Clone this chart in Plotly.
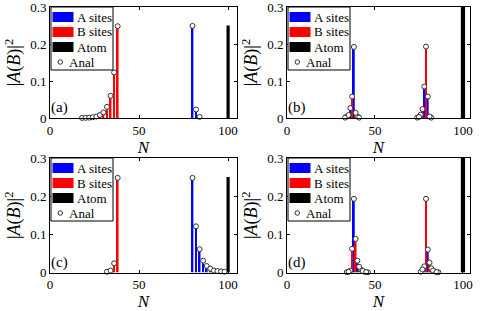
import plotly.graph_objects as go

# ---------------- data ----------------
# Panel (a)
a_A_N = [80, 82, 84]
a_A_val = [0.249, 0.023, 0.003]
a_B_N = [18, 20, 22, 24, 26, 28, 30, 32, 34, 36, 38]
a_B_val = [0.0002, 0.0005, 0.001, 0.002, 0.004, 0.008, 0.015, 0.030, 0.060, 0.123, 0.248]
a_atom_N = [100]
a_atom_val = [0.25]

# Panel (b)
b_A_N = [34, 36, 38, 40, 74, 76, 78, 80, 82]
b_A_val = [0.004, 0.027, 0.192, 0.004, 0.001, 0.009, 0.085, 0.058, 0.001]
b_B_N = [33, 35, 37, 39, 41, 75, 77, 79, 81]
b_B_val = [0.001, 0.008, 0.058, 0.014, 0.001, 0.003, 0.024, 0.193, 0.004]
b_atom_N = [100]
b_atom_val = [0.6]

# Panel (c)
c_A_N = [80, 82, 84, 86, 88, 90, 92, 94, 96, 98]
c_A_val = [0.248, 0.121, 0.061, 0.031, 0.017, 0.010, 0.005, 0.004, 0.003, 0.002]
c_B_N = [32, 34, 36, 38]
c_B_val = [0.002, 0.005, 0.024, 0.248]
c_atom_N = [100]
c_atom_val = [0.25]

# Panel (d)
d_A_N = [34, 36, 38, 40, 42, 44, 46, 76, 78, 80, 82, 84, 86]
d_A_val = [0.001, 0.005, 0.193, 0.031, 0.008, 0.002, 0.0005, 0.002, 0.016, 0.060, 0.011, 0.003, 0.0005]
d_B_N = [35, 37, 39, 41, 43, 45, 77, 79, 81, 83, 85]
d_B_val = [0.002, 0.062, 0.088, 0.015, 0.004, 0.001, 0.008, 0.193, 0.026, 0.005, 0.001]
d_atom_N = [100]
d_atom_val = [0.6]

x_tickvals = [0, 50, 100]
x_ticktext = ["0", "50", "100"]
y_tickvals = [0, 0.1, 0.2, 0.3]
y_ticktext = ["0", "0.1", "0.2", "0.3"]
legend_labels = ["A sites", "B sites", "Atom", "Anal"]
panel_labels = ["(a)", "(b)", "(c)", "(d)"]

# ---------------- layout helpers ----------------
W, H = 480, 311
FONT = "Liberation Serif, Times New Roman, Times, serif"
BLUE, RED, BLACK = "#0000FF", "#FF0000", "#000000"


def fx(p):
    return p / W


def fy(p):
    return 1 - p / H


# pixel boxes: (left, right, top, bottom)
boxes = [(50, 237, 7, 118), (287, 470, 7, 118), (50, 237, 158, 272.5), (287, 470, 158, 272.5)]
xranges = [[0, 105], [0, 104], [0, 105], [0, 104]]
atom_widths = [1.8, 2.4, 1.8, 2.4]

panels = [
    (a_A_N, a_A_val, a_B_N, a_B_val, a_atom_N, a_atom_val),
    (b_A_N, b_A_val, b_B_N, b_B_val, b_atom_N, b_atom_val),
    (c_A_N, c_A_val, c_B_N, c_B_val, c_atom_N, c_atom_val),
    (d_A_N, d_A_val, d_B_N, d_B_val, d_atom_N, d_atom_val),
]

fig = go.Figure()
shapes = []
annotations = []
layout = {}

for i, (AN, AV, BN, BV, TN, TV) in enumerate(panels):
    k = "" if i == 0 else str(i + 1)
    xa, ya = "x" + k, "y" + k
    fig.add_trace(go.Bar(x=AN, y=AV, width=1.0, marker=dict(color=BLUE, line=dict(width=0)),
                         xaxis=xa, yaxis=ya, showlegend=False, name=legend_labels[0]))
    fig.add_trace(go.Bar(x=BN, y=BV, width=1.0, marker=dict(color=RED, line=dict(width=0)),
                         xaxis=xa, yaxis=ya, showlegend=False, name=legend_labels[1]))
    fig.add_trace(go.Bar(x=TN, y=TV, width=atom_widths[i], marker=dict(color=BLACK, line=dict(width=0)),
                         xaxis=xa, yaxis=ya, showlegend=False, name=legend_labels[2]))
    fig.add_trace(go.Scatter(x=AN + BN, y=AV + BV, mode="markers",
                             marker=dict(symbol="circle", size=5, color="white",
                                         line=dict(color="#333333", width=1)),
                             xaxis=xa, yaxis=ya, showlegend=False, name=legend_labels[3],
                             cliponaxis=False))
    l, r, t, b = boxes[i]
    common = dict(showline=True, linecolor="black", linewidth=1, mirror="ticks",
                  ticks="inside", ticklen=3, tickwidth=1, tickcolor="black",
                  showgrid=False, zeroline=False, automargin=False,
                  ticklabeloverflow="allow",
                  tickfont=dict(family=FONT, size=13, color="black"))
    layout["xaxis" + k] = dict(domain=[fx(l), fx(r)], anchor=ya, range=xranges[i],
                               tickvals=x_tickvals, ticktext=x_ticktext,
                               title=dict(text="<i>N</i>", font=dict(family=FONT, size=17, color="black"),
                                          standoff=1), **common)
    layout["yaxis" + k] = dict(domain=[fy(b), fy(t)], anchor=xa, range=[0, 0.3],
                               tickvals=y_tickvals, ticktext=y_ticktext,
                               title=dict(text="|<i>A</i>(<i>B</i>)|<sup>2</sup>",
                                          font=dict(family=FONT, size=18, color="black"),
                                          standoff=4), **common)
    # panel label
    annotations.append(dict(text=panel_labels[i], xref=xa + " domain", yref=ya + " domain",
                            x=0, y=0, xanchor="left", yanchor="bottom", showarrow=False,
                            xshift=-1, yshift=0,
                            font=dict(family=FONT, size=15, color="black")))
    # manual legend
    x0, y0 = l + 1, t
    shapes.append(dict(type="rect", xref="paper", yref="paper",
                       x0=fx(x0), x1=fx(x0 + 62), y0=fy(y0 + 63), y1=fy(y0),
                       fillcolor="white", line=dict(color="black", width=1), layer="above"))
    colors = [BLUE, RED, BLACK]
    for j in range(3):
        cy = y0 + 10 + 15 * j
        shapes.append(dict(type="rect", xref="paper", yref="paper",
                           x0=fx(x0 + 1.5), x1=fx(x0 + 22.5), y0=fy(cy + 5), y1=fy(cy - 5),
                           fillcolor=colors[j], line=dict(width=0), layer="above"))
        annotations.append(dict(text=legend_labels[j], xref="paper", yref="paper",
                                x=fx(x0 + 23.5), y=fy(cy), xanchor="left", yanchor="middle",
                                showarrow=False, font=dict(family=FONT, size=13, color="black")))
    cy = y0 + 10 + 45
    shapes.append(dict(type="circle", xref="paper", yref="paper",
                       x0=fx(x0 + 7), x1=fx(x0 + 11.5), y0=fy(cy + 2.25), y1=fy(cy - 2.25),
                       fillcolor="white", line=dict(color="#333333", width=1), layer="above"))
    annotations.append(dict(text=legend_labels[3], xref="paper", yref="paper",
                            x=fx(x0 + 16), y=fy(cy), xanchor="left", yanchor="middle",
                            showarrow=False, font=dict(family=FONT, size=13, color="black")))

fig.update_layout(width=W, height=H, margin=dict(l=0, r=0, t=0, b=0),
                  paper_bgcolor="white", plot_bgcolor="white", barmode="overlay",
                  shapes=shapes, annotations=annotations, showlegend=False,
                  font=dict(family=FONT, color="black"), **layout)

fig.write_html("out.html", config={"displayModeBar": False},
               post_script="document.body.style.margin='0';document.body.style.padding='0';")
